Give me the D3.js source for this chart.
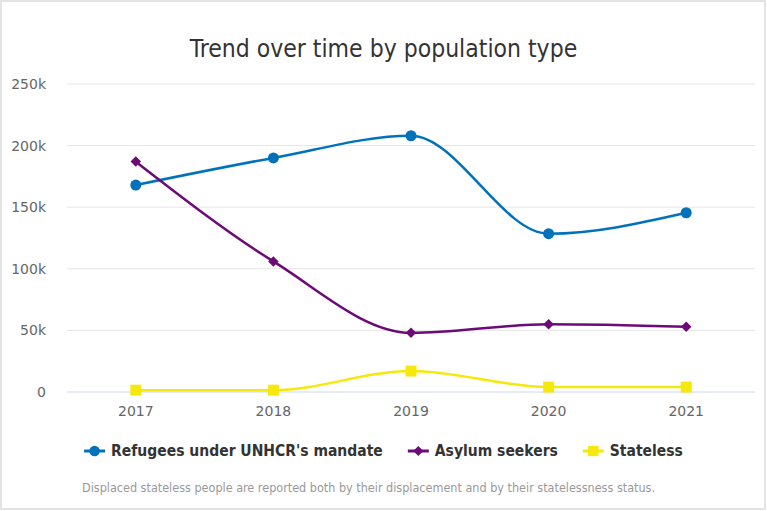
<!DOCTYPE html>
<html>
<head>
<meta charset="utf-8">
<script src="https://cdn.jsdelivr.net/npm/d3@7"></script>
<style>
  body { margin: 0; background: #fff; }
  #chart { width: 767px; height: 511px; }
  text { font-family: "DejaVu Sans", sans-serif; }
  .cond { font-stretch: condensed; }
</style>
</head>
<body>
<div id="chart"></div>
<script>
// values
const years = ["2017", "2018", "2019", "2020", "2021"];
const refugees = [168000, 190000, 208000, 128500, 145500];
const asylum = [187000, 106000, 48000, 55000, 53000];
const stateless = [1500, 1500, 17000, 4000, 4000];
const yTicks = [0, 50000, 100000, 150000, 200000, 250000];

// diamond = square turned 45deg (d3's own diamond is too narrow)
const series = [
  {name: "Refugees under UNHCR's mandate", values: refugees, color: "#0072bc", symbol: d3.symbolCircle, size: 95, rot: 0},
  {name: "Asylum seekers", values: asylum, color: "#6c0a78", symbol: d3.symbolSquare, size: 55, rot: 45},
  {name: "Stateless", values: stateless, color: "#f5e80a", symbol: d3.symbolSquare, size: 120, rot: 0}
];

const width = 767, height = 511;
const margin = {top: 84, right: 12, bottom: 119, left: 67};

const svg = d3.select("#chart").append("svg")
  .attr("width", width)
  .attr("height", height);

// outer frame
svg.append("rect")
  .attr("x", 1).attr("y", 1)
  .attr("width", width - 3).attr("height", height - 3)
  .attr("fill", "#fff")
  .attr("stroke", "#e3e3e3")
  .attr("stroke-width", 2);

const x = d3.scalePoint()
  .domain(years)
  .range([margin.left, width - margin.right])
  .padding(0.5);
const y = d3.scaleLinear()
  .domain([0, 250000])
  .range([height - margin.bottom, margin.top]);

// gridlines + y labels
svg.append("g")
  .selectAll("line")
  .data(yTicks.slice(1))
  .join("line")
  .attr("x1", margin.left).attr("x2", width - margin.right)
  .attr("y1", d => y(d)).attr("y2", d => y(d))
  .attr("stroke", "#e6e6e6");

svg.append("g")
  .selectAll("text")
  .data(yTicks)
  .join("text")
  .attr("x", 46)
  .attr("y", d => y(d))
  .attr("dy", "0.35em")
  .attr("text-anchor", "end")
  .attr("font-size", "14px")
  .attr("fill", "#666")
  .text(d => d === 0 ? "0" : d / 1000 + "k");

// x axis
svg.append("line")
  .attr("x1", margin.left).attr("x2", width - margin.right)
  .attr("y1", y(0)).attr("y2", y(0))
  .attr("stroke", "#ccd6eb");

svg.append("g")
  .selectAll("text")
  .data(years)
  .join("text")
  .attr("x", d => x(d))
  .attr("y", y(0) + 24)
  .attr("text-anchor", "middle")
  .attr("font-size", "14px")
  .attr("fill", "#666")
  .text(d => d);

// lines
const line = d3.line()
  .x((d, i) => x(years[i]))
  .y(d => y(d))
  .curve(d3.curveMonotoneX);

series.forEach(s => {
  svg.append("path")
    .datum(s.values)
    .attr("d", line)
    .attr("fill", "none")
    .attr("stroke", s.color)
    .attr("stroke-width", 2.5);
  svg.append("g")
    .selectAll("path")
    .data(s.values)
    .join("path")
    .attr("transform", (d, i) => `translate(${x(years[i])},${y(d)}) rotate(${s.rot})`)
    .attr("d", d3.symbol().type(s.symbol).size(s.size))
    .attr("fill", s.color);
});

// title
svg.append("text")
  .attr("class", "cond")
  .attr("x", width / 2)
  .attr("y", 57)
  .attr("text-anchor", "middle")
  .attr("font-size", "24.5px")
  .attr("fill", "#333")
  .text("Trend over time by population type");

// legend: items laid out one after the other, then centred
const legend = svg.append("g");
let lx = 0;
series.forEach(s => {
  const g = legend.append("g").attr("transform", `translate(${lx},0)`);
  g.append("line")
    .attr("x1", 0).attr("x2", 21)
    .attr("stroke", s.color).attr("stroke-width", 3);
  g.append("path")
    .attr("transform", `translate(10.5,0) rotate(${s.rot})`)
    .attr("d", d3.symbol().type(s.symbol).size(s.size * 0.9))
    .attr("fill", s.color);
  const t = g.append("text")
    .attr("class", "cond")
    .attr("x", 27)
    .attr("dy", "0.35em")
    .attr("font-weight", "bold")
    .attr("font-size", "15.5px")
    .attr("fill", "#333")
    .text(s.name);
  lx += 27 + t.node().getComputedTextLength() + 25;
});
const legendW = lx - 25;
legend.attr("transform", `translate(${(width - legendW) / 2},451)`);

// footnote
svg.append("text")
  .attr("class", "cond")
  .attr("x", 82)
  .attr("y", 492)
  .attr("font-size", "12.5px")
  .attr("fill", "#999")
  .text("Displaced stateless people are reported both by their displacement and by their statelessness status.");
</script>
</body>
</html>
